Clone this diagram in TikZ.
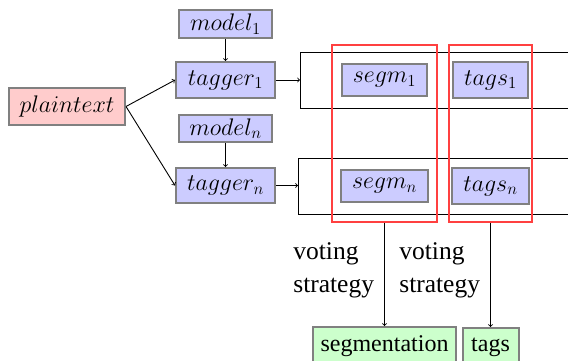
\RequirePackage{fix-cm}
\documentclass[tikz,border=0pt]{standalone}
\usepackage[no-math]{fontspec}
\setmainfont{Liberation Serif}
\begin{document}
\begin{tikzpicture}[x=1pt,y=-1pt,
  every node/.style={font=\fontsize{24}{33}\selectfont},
  bx/.style={draw=black!50, line width=2pt, inner sep=0pt},
  blu/.style={bx, fill=blue!20},
  rd/.style={bx, fill=red!20},
  grn/.style={bx, fill=green!20},
  rowbox/.style={draw=black, line width=1pt, inner sep=0pt, anchor=north west},
  votebox/.style={draw=red!75, line width=1.1pt, inner sep=0pt},
  arr/.style={->, line width=0.9pt},
  lbl/.style={align=left, anchor=east, inner sep=0pt, font=\fontsize{25.5}{33}\selectfont}
]
\clip (0,0) rectangle (568,361);
\fill[white] (0,0) rectangle (568,361);

\node[rd, minimum width=116pt, minimum height=37pt] (plain) at (67,106.5) {$plaintext$};
\node[blu, minimum width=93pt, minimum height=28pt] (m1) at (225.5,24) {$model_1$};
\node[blu, minimum width=99pt, minimum height=36pt] (t1) at (225.5,80) {$tagger_1$};
\node[blu, minimum width=93pt, minimum height=27pt] (mn) at (225.5,128.5) {$model_n$};
\node[blu, minimum width=99pt, minimum height=35pt] (tn) at (225.5,185.5) {$tagger_n$};

\node[rowbox, minimum width=300pt, minimum height=56pt] (r1) at (300,52) {};
\node[rowbox, minimum width=300pt, minimum height=56pt] (rn) at (298,158) {};

\node[blu, minimum width=85pt, minimum height=32pt] (s1) at (384.5,80) {$segm_1$};
\node[blu, minimum width=75pt, minimum height=36pt] (g1) at (490.5,80) {$tags_1$};
\node[blu, minimum width=87pt, minimum height=32pt] (sn) at (384.5,186) {$segm_n$};
\node[blu, minimum width=77pt, minimum height=36pt] (gn) at (490.5,186) {$tags_n$};

\node[votebox, minimum width=105pt, minimum height=177pt] (v1) at (384.5,133.5) {};
\node[votebox, minimum width=83pt, minimum height=177pt] (v2) at (490.5,133.5) {};

\node[grn, minimum width=143pt, minimum height=38pt, anchor=north] (seg) at (384.5,326) {segmentation};
\node[grn, minimum width=56pt, minimum height=38pt, anchor=north] (tags) at (490.5,327) {tags};

\draw[arr] (plain.east) -- (t1.west);
\draw[arr] (plain.east) -- (tn.west);
\draw[arr] (m1) -- (t1);
\draw[arr] (mn) -- (tn);
\draw[arr] (t1.east) -- (r1.west |- t1.east);
\draw[arr] (tn.east) -- (rn.west |- tn.east);

\draw[arr] (v1.south) -- (seg.north) node[midway, lbl, xshift=-10pt, yshift=4pt] {voting\\strategy};
\draw[arr] (v2.south) -- (tags.north) node[midway, lbl, xshift=-10pt, yshift=4pt] {voting\\strategy};
\end{tikzpicture}
\end{document}
